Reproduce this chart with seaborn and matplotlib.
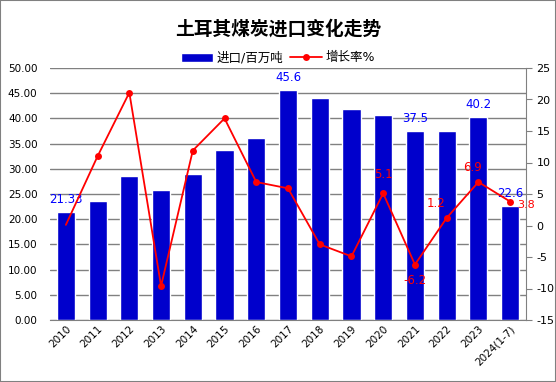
import matplotlib
matplotlib.use('Agg')
import matplotlib.pyplot as plt
import seaborn as sns
import numpy as np
import pandas as pd

sns.set_style('white')
plt.rcParams['font.family'] = ['DejaVu Sans', 'Noto Sans CJK SC']
plt.rcParams['axes.unicode_minus'] = False
plt.rcParams['text.color'] = 'black'
plt.rcParams['xtick.color'] = 'black'
plt.rcParams['ytick.color'] = 'black'

years = ['2010', '2011', '2012', '2013', '2014', '2015', '2016', '2017',
         '2018', '2019', '2020', '2021', '2022', '2023', '2024(1-7)']
imports = [21.33, 23.6, 28.6, 25.8, 29.0, 33.7, 36.1, 45.6,
           44.0, 41.9, 40.7, 37.5, 37.5, 40.2, 22.6]
growth = [0.1, 11.0, 21.1, -9.6, 11.9, 17.0, 6.9, 5.9,
          -3.0, -4.9, 5.1, -6.2, 1.2, 6.9, 3.8]
bar_labels = {0: '21.33', 7: '45.6', 11: '37.5', 13: '40.2', 14: '22.6'}
line_labels = {10: '5.1', 11: '-6.2', 12: '1.2', 13: '6.9', 14: '3.8'}

df = pd.DataFrame({'year': years, 'imp': imports, 'growth': growth})
df['pos'] = range(len(df))

fig = plt.figure(figsize=(5.56, 3.82), dpi=100)
ax = fig.add_axes([50 / 556, 1 - 320 / 382, 476 / 556, 252 / 382])

# 柱状图
sns.barplot(data=df, x='year', y='imp', color='#0000CC', saturation=1,
            width=0.57, ax=ax, label='进口/百万吨', zorder=2)
if ax.get_legend() is not None:
    ax.get_legend().remove()
ax.set_ylim(0, 50)
ax.set_yticks(np.arange(0, 50.1, 5))
ax.set_yticklabels([f'{v:.2f}' for v in np.arange(0, 50.1, 5)], fontsize=7.5)
ax.yaxis.grid(True, color='#808080', linewidth=1, zorder=0)
ax.set_axisbelow(True)
ax.set_xlim(-0.5, len(years) - 0.5)
ax.set_xlabel('')
ax.set_ylabel('')
ax.tick_params(axis='x', labelsize=7.5, rotation=45, length=0, pad=3)
ax.tick_params(axis='y', length=0, pad=9)
for lbl in ax.get_xticklabels():
    lbl.set_ha('right')
    lbl.set_rotation_mode('anchor')
for s in ['left', 'top', 'right']:
    ax.spines[s].set_visible(False)
ax.spines['bottom'].set_color('#808080')

for i, t in bar_labels.items():
    ax.text(i, imports[i] + 1.2, t, ha='center', va='bottom', color='#0000FF', fontsize=8.5)

# 增长率折线
ax2 = ax.twinx()
sns.lineplot(data=df, x='pos', y='growth', color='#FF0000', linewidth=1.3,
             marker='o', markersize=5, markeredgewidth=0, ax=ax2, sort=False,
             markevery=list(range(1, len(df))), label='增长率%', legend=False)
ax2.set_ylim(-15, 25)
ax2.set_yticks(range(-15, 26, 5))
ax2.tick_params(axis='y', labelsize=8, length=4, color='#808080', direction='out')
ax2.set_ylabel('')
ax2.set_xlabel('')
for s in ['left', 'top', 'bottom']:
    ax2.spines[s].set_visible(False)
ax2.spines['right'].set_color('#808080')
ax2.set_xlim(-0.5, len(years) - 0.5)

for i, t in line_labels.items():
    if i == 14:
        ax2.text(i + 0.22, growth[i] - 0.6, t, ha='left', va='center', color='#FF0000', fontsize=8)
    elif i == 11:
        ax2.text(i, growth[i] - 1.5, t, ha='center', va='top', color='#FF0000', fontsize=8.5)
    elif i == 12:
        ax2.text(i - 0.35, growth[i] + 1.2, t, ha='center', va='bottom', color='#FF0000', fontsize=8.5)
    elif i == 13:
        ax2.text(i - 0.2, growth[i] + 1.2, t, ha='center', va='bottom', color='#FF0000', fontsize=8.5)
    else:
        ax2.text(i, growth[i] + 2.0, t, ha='center', va='bottom', color='#FF0000', fontsize=8.5)

h1, l1 = ax.get_legend_handles_labels()
h2, l2 = ax2.get_legend_handles_labels()
fig.legend(h1 + h2, l1 + l2, loc='center', bbox_to_anchor=(0.5, 1 - 58 / 382),
           ncol=2, frameon=False, fontsize=9, handlelength=2.6,
           handletextpad=0.3, columnspacing=0.5)

fig.suptitle('土耳其煤炭进口变化走势', y=1 - 29 / 382, va='center',
             fontsize=13.5, fontweight='bold', color='black')

fig.patches.append(plt.Rectangle((0, 0), 1, 1, transform=fig.transFigure,
                                 fill=False, edgecolor='#808080', linewidth=1.5))

fig.savefig('out.png', dpi=100)
